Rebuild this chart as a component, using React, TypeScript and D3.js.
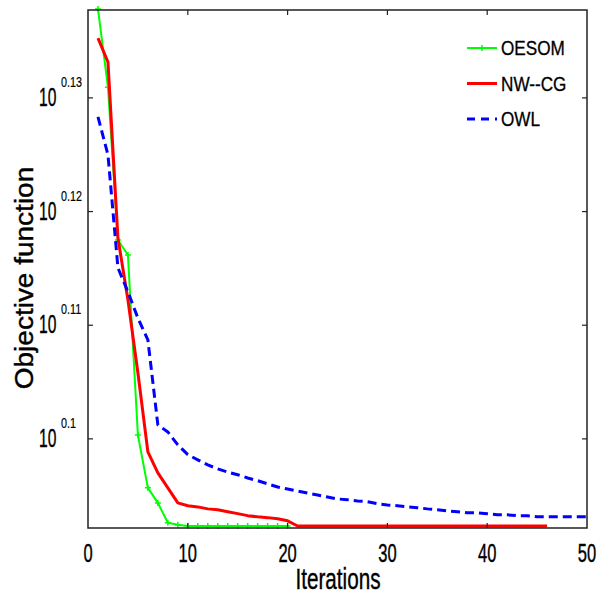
import React from "react";
import * as d3 from "d3";

// objective value per iteration (log y axis)
const oesom = [
  1.3735, 1.3519, 1.3107, 1.3067, 1.2599, 1.2465, 1.2427, 1.2377, 1.2372, 1.2369,
  1.2369, 1.2369, 1.2369, 1.2369, 1.2369, 1.2369, 1.2369, 1.2369, 1.2369, 1.2369,
];
const nwcg = [
  1.3654, 1.3588, 1.3112, 1.2949, 1.2759, 1.2556, 1.2503, 1.2465, 1.2427, 1.242,
  1.2417, 1.2412, 1.241, 1.2405, 1.24, 1.2395, 1.2392, 1.239, 1.2387, 1.2382,
  1.2369, 1.2369, 1.2369, 1.2369, 1.2369, 1.2369, 1.2369, 1.2369, 1.2369, 1.2369,
  1.2369, 1.2369, 1.2369, 1.2369, 1.2369, 1.2369, 1.2369, 1.2369, 1.2369, 1.2369,
  1.2369, 1.2369, 1.2369, 1.2369, 1.2369, 1.2369,
];
const owl = [
  1.3438, 1.3335, 1.3033, 1.297, 1.2901, 1.2844, 1.2625, 1.2607, 1.2574, 1.2549,
  1.2536, 1.2523, 1.2513, 1.2505, 1.2498, 1.249, 1.2483, 1.2475, 1.2467, 1.2462,
  1.2457, 1.2452, 1.2447, 1.2442, 1.2437, 1.2435, 1.2432, 1.243, 1.2425, 1.2422,
  1.242, 1.2417, 1.2415, 1.2412, 1.241, 1.2407, 1.2405, 1.2402, 1.2402, 1.24,
  1.2397, 1.2397, 1.2395, 1.2395, 1.2392, 1.2392, 1.2392, 1.2392, 1.2392, 1.2392,
];

const xTicks = [0, 10, 20, 30, 40, 50];
const yExps = ["0.1", "0.11", "0.12", "0.13"];
const legendNames = ["OESOM", "NW--CG", "OWL"];

const W = 598;
const H = 603;
const m = { left: 88, right: 587, top: 10, bottom: 528 };
const FONT = "'Liberation Sans', Arial, Helvetica, sans-serif";

// matlab export text is narrow and heavy, so squeeze it and add a thin outline
const Squeezed = ({ x, y, sx, size, anchor = "start", rotate = 0, heavy = 0.4, children }) => (
  <text
    transform={`translate(${x},${y}) rotate(${rotate}) scale(${sx},1)`}
    fontSize={size}
    fontFamily={FONT}
    textAnchor={anchor}
    fill="#000"
    stroke="#000"
    strokeWidth={heavy}
  >
    {children}
  </text>
);

export default function App() {
  const x = d3.scaleLinear().domain([0, 50]).range([m.left, m.right]);
  const y = d3.scaleLog().domain([1.2364, 1.3732]).range([m.bottom, m.top]);

  const line = d3
    .line<number>()
    .x((_, i) => x(i + 1))
    .y((d) => y(d));

  const series = [
    { name: legendNames[0], data: oesom, color: "#00ff00", width: 2, dash: null, marker: true },
    { name: legendNames[1], data: nwcg, color: "#ff0000", width: 3, dash: null, marker: false },
    { name: legendNames[2], data: owl, color: "#0000ff", width: 3, dash: "9,5", marker: false },
  ];

  return (
    <svg width={W} height={H} style={{ position: "absolute", left: 0, top: 0 }}>
      <rect width={W} height={H} fill="#fff" />

      {series.map((s) => (
        <g key={s.name}>
          <path
            d={line(s.data)}
            fill="none"
            stroke={s.color}
            strokeWidth={s.width}
            strokeDasharray={s.dash || undefined}
            strokeLinejoin="round"
          />
          {s.marker &&
            s.data.map((d, i) => (
              <path
                key={i}
                d={`M${x(i + 1) - 3},${y(d)}h6M${x(i + 1)},${y(d) - 3}v6`}
                stroke={s.color}
                strokeWidth={1.5}
              />
            ))}
        </g>
      ))}

      {/* axes box */}
      <rect
        x={m.left}
        y={m.top}
        width={m.right - m.left}
        height={m.bottom - m.top}
        fill="none"
        stroke="#222"
        strokeWidth={1.5}
      />

      {/* x ticks */}
      {xTicks.map((t) => (
        <g key={t}>
          {t > 0 && t < 50 && (
            <>
              <line x1={x(t)} x2={x(t)} y1={m.bottom} y2={m.bottom - 5} stroke="#222" strokeWidth={1.2} />
              <line x1={x(t)} x2={x(t)} y1={m.top} y2={m.top + 5} stroke="#222" strokeWidth={1.2} />
            </>
          )}
          <Squeezed x={x(t)} y={562} sx={0.66} size={25} anchor="middle">
            {t}
          </Squeezed>
        </g>
      ))}

      {/* y ticks */}
      {yExps.map((e) => {
        const yy = y(Math.pow(10, +e));
        return (
          <g key={e}>
            <line x1={m.left} x2={m.left + 5} y1={yy} y2={yy} stroke="#222" strokeWidth={1.2} />
            <line x1={m.right} x2={m.right - 5} y1={yy} y2={yy} stroke="#222" strokeWidth={1.2} />
            <Squeezed x={39} y={yy + 8} sx={0.6} size={26}>
              10
            </Squeezed>
            <Squeezed x={61} y={yy - 11} sx={0.72} size={15} heavy={0.2}>
              {e}
            </Squeezed>
          </g>
        );
      })}

      {/* axis titles */}
      <Squeezed x={338} y={589} sx={0.69} size={30} anchor="middle">
        Iterations
      </Squeezed>
      <Squeezed x={33} y={278} sx={1.12} size={25} anchor="middle" rotate={-90}>
        Objective function
      </Squeezed>

      {/* legend */}
      {series.map((s, i) => {
        const ly = 48 + i * 35.5;
        return (
          <g key={s.name}>
            <line
              x1={467}
              x2={497}
              y1={ly}
              y2={ly}
              stroke={s.color}
              strokeWidth={s.width}
              strokeDasharray={s.dash ? "8,6" : undefined}
            />
            {s.marker && (
              <path d={`M479,${ly}h6M482,${ly - 3}v6`} stroke={s.color} strokeWidth={1.5} />
            )}
            <Squeezed x={501} y={ly + 7} sx={0.88} size={19.5} heavy={0.3}>
              {s.name}
            </Squeezed>
          </g>
        );
      })}
    </svg>
  );
}
